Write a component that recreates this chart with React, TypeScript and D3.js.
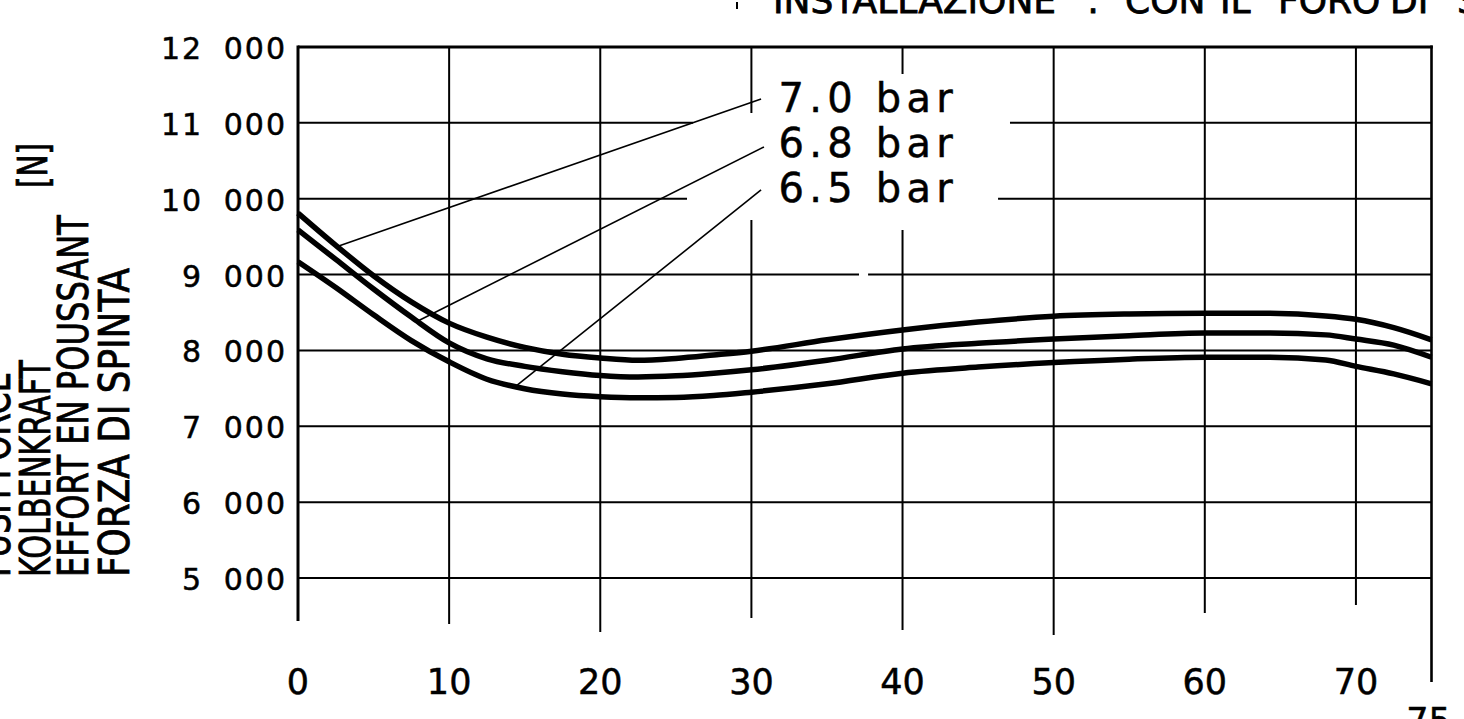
import React from "react";
import * as d3 from "d3";

// ---- data ----
const curveX = [0, 2.5, 5, 7.5, 10, 12.5, 15, 17.5, 20, 22.5, 25, 27.5, 30, 35, 40, 45, 50, 55, 60, 64, 68, 70, 72.5, 75];
const force70 = [9810, 9385, 8985, 8640, 8360, 8175, 8040, 7950, 7900, 7870, 7895, 7940, 7990, 8140, 8270, 8375, 8450, 8480, 8490, 8490, 8455, 8410, 8300, 8140];
const force68 = [9590, 9200, 8810, 8440, 8100, 7890, 7790, 7720, 7670, 7650, 7665, 7700, 7745, 7870, 8020, 8095, 8150, 8195, 8230, 8230, 8205, 8150, 8070, 7910];
const force65 = [9170, 8830, 8470, 8130, 7850, 7620, 7495, 7425, 7390, 7375, 7380, 7405, 7450, 7560, 7700, 7780, 7840, 7885, 7910, 7910, 7875, 7790, 7690, 7560];
const seriesNames = ["7.0 bar", "6.8 bar", "6.5 bar"];
const seriesValues = [force70, force68, force65];

const xTicks = [0, 10, 20, 30, 40, 50, 60, 70, 75];
const xTickLabels = ["0", "10", "20", "30", "40", "50", "60", "70", "75"];
const yTicks = [5000, 6000, 7000, 8000, 9000, 10000, 11000, 12000];
const yTickLabels = ["5 000", "6 000", "7 000", "8 000", "9 000", "10 000", "11 000", "12 000"];

// leader lines (from a point on each curve to its label), in data units
const leaderFromX = [2.6, 7.9, 14.4];
const leaderToX = [30.64, 30.83, 30.64];
const leaderToY = [11315, 10682, 10115];
const labelX = 31.8;
const labelY = [11143, 10550, 9957];

const yTitleLines = ["PUSH FORCE", "KOLBENKRAFT", "EFFORT EN POUSSANT", "FORZA DI SPINTA"];
const unitLabel = "[N]";
const titleWords = ["INSTALLAZIONE", ":", "CON", "IL", "FORO", "DI", "S"];

// ---- layout ----
const W = 1464;
const H = 719;
const FONT = "'DejaVu Sans', 'Liberation Sans', sans-serif";

const x = d3.scaleLinear().domain([0, 75]).range([298, 1431.5]);
const y = d3.scaleLinear().domain([5000, 12000]).range([578, 47]);

const hGaps: Record<number, [number, number][]> = {
  11000: [[26.14, 47.11]],
  10000: [[25.74, 46.32]],
  9000: [[37.12, 37.72]],
};
const vGaps: Record<number, [number, number][]> = {
  30: [[9720, 11130]],
  40: [[9588, 11644]],
};
const vDrop: Record<number, number> = { 0: 43, 10: 46, 20: 54, 30: 40, 40: 52, 50: 57, 60: 35, 70: 27, 75: 104 };
const titleWordX = [773, 1087, 1125, 1220, 1278, 1390, 1457];
const yTitleBaseX = [10, 50, 88, 129];
const yTitleLen = [205, 217, 362, 309];

function split(lo: number, hi: number, gaps: [number, number][] = []) {
  const out: [number, number][] = [];
  let cur = lo;
  gaps.forEach(([a, b]) => {
    out.push([cur, a]);
    cur = b;
  });
  out.push([cur, hi]);
  return out;
}

export default function App() {
  const line = d3
    .line<number>()
    .x((_, i) => x(curveX[i]))
    .y((d) => y(d))
    .curve(d3.curveMonotoneX);

  const textStroke = { stroke: "#000", strokeWidth: 0.5 };

  return (
    <svg
      width={W}
      height={H}
      viewBox={`0 0 ${W} ${H}`}
      style={{ position: "absolute", left: 0, top: 0, background: "#fff" }}
      fontFamily={FONT}
    >
      <rect x={0} y={0} width={W} height={H} fill="#fff" />

      {/* title (cut at top, as in the reference) */}
      <line x1={737} x2={737} y1={2} y2={9} stroke="#000" strokeWidth={2} />
      <text y={13} fontSize={36} fill="#000" {...textStroke} strokeWidth={0.8}>
        {titleWords.map((w, i) => (
          <tspan key={i} x={titleWordX[i]}>
            {w}
          </tspan>
        ))}
      </text>

      {/* horizontal grid */}
      {yTicks
        .filter((v) => v < 12000)
        .map((v) =>
          split(0, 75, hGaps[v]).map(([a, b], j) => (
            <line key={`h${v}-${j}`} x1={x(a)} x2={x(b)} y1={y(v)} y2={y(v)} stroke="#000" strokeWidth={2} />
          ))
        )}

      {/* vertical grid */}
      {xTicks
        .filter((v) => v > 0 && v < 75)
        .map((v) =>
          split(5000, 12000, vGaps[v]).map(([a, b], j) => (
            <line
              key={`v${v}-${j}`}
              x1={x(v)}
              x2={x(v)}
              y1={j === 0 ? y(a) + vDrop[v] : y(a)}
              y2={y(b)}
              stroke="#000"
              strokeWidth={2}
            />
          ))
        )}

      {/* frame */}
      <line x1={x(0)} x2={x(0)} y1={y(12000) - 1.5} y2={y(5000) + vDrop[0]} stroke="#000" strokeWidth={3} />
      <line x1={x(75)} x2={x(75)} y1={y(12000) - 1.5} y2={y(5000) + vDrop[75]} stroke="#000" strokeWidth={2.6} />
      <line x1={x(0)} x2={x(75) + 1.3} y1={y(12000)} y2={y(12000)} stroke="#000" strokeWidth={3} />

      {/* curves */}
      {seriesValues.map((vals, i) => (
        <path key={seriesNames[i]} d={line(vals) || ""} fill="none" stroke="#000" strokeWidth={5.5} />
      ))}

      {/* leaders */}
      {seriesValues.map((vals, i) => {
        const interp = d3.scaleLinear().domain(curveX).range(vals);
        return (
          <line
            key={`l${i}`}
            x1={x(leaderFromX[i])}
            y1={y(interp(leaderFromX[i]))}
            x2={x(leaderToX[i])}
            y2={y(leaderToY[i])}
            stroke="#000"
            strokeWidth={1.6}
          />
        );
      })}

      {/* series labels */}
      {seriesNames.map((n, i) => (
        <text
          key={`t${i}`}
          x={x(labelX)}
          y={y(labelY[i])}
          fontSize={40}
          textLength={174}
          lengthAdjust="spacing"
          fill="#000"
          {...textStroke}
        >
          {n}
        </text>
      ))}

      {/* y tick labels */}
      {yTicks.map((v, i) => (
        <text
          key={`yl${v}`}
          x={287}
          y={y(v) + 12}
          fontSize={30}
          letterSpacing={2}
          wordSpacing={9}
          textAnchor="end"
          fill="#000"
          {...textStroke}
        >
          {yTickLabels[i]}
        </text>
      ))}

      {/* x tick labels */}
      {xTicks.map((v, i) => (
        <text
          key={`xl${v}`}
          x={x(v) - (v === 75 ? 3 : 0)}
          y={v === 75 ? 733 : 694}
          fontSize={35}
          textAnchor="middle"
          fill="#000"
          {...textStroke}
        >
          {xTickLabels[i]}
        </text>
      ))}

      {/* y-axis title */}
      {yTitleLines.map((t, i) => (
        <text
          key={`yt${i}`}
          transform={`translate(${yTitleBaseX[i]},577) rotate(-90)`}
          fontSize={42}
          textLength={yTitleLen[i]}
          lengthAdjust="spacingAndGlyphs"
          fill="#000"
          {...textStroke}
          strokeWidth={0.8}
        >
          {t}
        </text>
      ))}
      <text
        transform={`translate(47,188) rotate(-90)`}
        fontSize={40}
        textLength={45}
        lengthAdjust="spacingAndGlyphs"
        fill="#000"
        {...textStroke}
        strokeWidth={0.8}
      >
        {unitLabel}
      </text>
    </svg>
  );
}
